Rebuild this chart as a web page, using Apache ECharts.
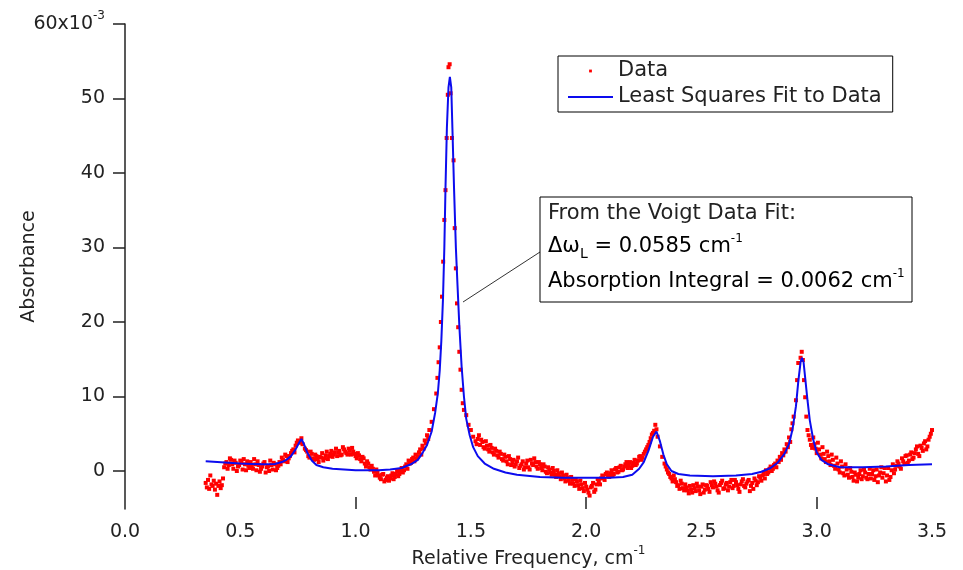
<!DOCTYPE html>
<html lang="en">
<head>
    <meta charset="UTF-8">
    <title>Voigt Fit</title>
    <script src="https://cdn.jsdelivr.net/npm/echarts@6/dist/echarts.min.js"></script>
    <style>
        html, body {
            margin: 0;
            padding: 0;
            background: #fff;
        }
    </style>
</head>
<body>
<div id="main" style="width:963px;height:570px;"></div>
<script>
    // measured points (x in cm-1, y in units of 1e-3)
    var dataPoints = [
        [0.350, -1.6], [0.355, -2.2], [0.360, -1.2], [0.365, -2.4], [0.370, -0.6], [0.375, -1.8], [0.380, -2.0],
        [0.385, -1.3], [0.390, -2.5], [0.395, -1.7], [0.400, -3.2], [0.405, -2.0], [0.410, -1.4], [0.415, -2.3],
        [0.420, -1.9], [0.425, -1.0],
        [0.43, 0.5], [0.44, 1.2], [0.45, 0.8], [0.46, 1.5], [0.47, 0.3], [0.48, 1.1], [0.49, 0.6], [0.50, 1.4],
        [0.51, 0.2], [0.52, 0.9], [0.53, 1.3], [0.54, 0.4], [0.55, 0.7], [0.56, 1.6], [0.57, 0.1], [0.58, 0.8],
        [0.59, 0.3], [0.60, 1.0], [0.61, -0.2], [0.62, 0.6], [0.63, 1.4], [0.64, 0.2], [0.65, 0.9], [0.66, 0.4],
        [0.67, 1.2], [0.68, 1.8], [0.69, 1.3], [0.70, 2.0], [0.71, 1.7], [0.72, 2.4], [0.73, 2.9], [0.74, 3.4],
        [0.75, 4.1], [0.76, 3.8], [0.765, 4.4], [0.77, 3.6], [0.78, 3.0], [0.79, 2.6], [0.80, 1.8], [0.81, 2.3],
        [0.82, 1.5], [0.83, 2.0], [0.84, 1.2], [0.85, 1.8], [0.86, 1.4], [0.87, 2.1], [0.88, 1.6], [0.89, 2.3],
        [0.90, 1.9], [0.91, 2.5], [0.92, 2.0], [0.93, 2.7], [0.94, 2.2], [0.95, 2.9], [0.96, 2.4], [0.97, 3.0],
        [0.98, 2.2], [0.99, 2.6], [1.00, 2.0], [1.01, 2.4], [1.02, 1.6], [1.03, 1.9], [1.04, 1.0], [1.05, 1.3],
        [1.06, 0.5], [1.07, 0.7], [1.08, -0.1], [1.09, 0.2], [1.10, -0.6], [1.11, -1.1], [1.12, -0.4], [1.13, -1.2],
        [1.14, -0.7], [1.15, -1.0], [1.16, -0.3], [1.17, -0.8], [1.18, 0.0], [1.19, -0.4], [1.20, 0.4], [1.21, 0.1],
        [1.22, 0.9], [1.23, 1.4], [1.24, 1.1], [1.25, 1.8], [1.26, 2.2], [1.27, 2.0], [1.28, 2.9], [1.29, 3.4],
        [1.30, 4.1], [1.31, 4.8], [1.32, 5.5], [1.33, 6.6], [1.34, 8.3], [1.35, 10.4], [1.355, 12.5], [1.36, 14.6],
        [1.365, 16.6], [1.37, 20.0], [1.375, 23.4], [1.38, 28.1], [1.385, 33.7], [1.39, 37.7], [1.395, 44.7],
        [1.40, 50.5], [1.403, 54.2], [1.408, 54.6], [1.412, 50.7], [1.418, 44.7], [1.425, 41.7], [1.43, 32.6],
        [1.435, 27.2], [1.44, 22.5], [1.445, 19.3], [1.45, 16.0], [1.455, 13.6], [1.46, 10.9], [1.465, 9.1],
        [1.47, 8.2], [1.48, 7.5], [1.49, 6.2], [1.50, 5.5], [1.51, 4.6], [1.52, 4.0], [1.53, 4.3], [1.54, 3.5],
        [1.55, 3.9], [1.56, 3.0], [1.57, 3.4], [1.58, 2.6], [1.59, 3.1], [1.60, 2.2], [1.61, 2.7], [1.62, 1.8],
        [1.63, 2.3], [1.64, 1.4], [1.65, 1.9], [1.66, 0.9], [1.67, 1.6], [1.68, 1.1], [1.69, 0.6], [1.70, 1.3],
        [1.71, 0.4], [1.72, 0.9], [1.73, 0.2], [1.74, 1.0], [1.75, 0.5], [1.76, 1.5], [1.77, 0.8], [1.78, 1.2],
        [1.79, 0.3], [1.80, 0.9], [1.81, 0.1], [1.82, 0.6], [1.83, -0.3], [1.84, 0.2], [1.85, -0.5], [1.86, 0.0],
        [1.87, -0.8], [1.88, -0.3], [1.89, -1.1], [1.90, -0.6], [1.91, -1.4], [1.92, -0.9], [1.93, -1.7], [1.94, -1.2],
        [1.95, -2.0], [1.96, -1.4], [1.97, -2.4], [1.98, -1.8], [1.99, -2.7], [2.00, -2.1], [2.01, -2.9], [2.02, -2.2],
        [2.03, -1.6], [2.04, -2.5], [2.05, -1.1], [2.06, -1.8], [2.07, -0.6], [2.08, -1.2], [2.09, -0.2], [2.10, -0.8],
        [2.11, 0.1], [2.12, -0.4], [2.13, 0.4], [2.14, -0.1], [2.15, 0.7], [2.16, 0.2], [2.17, 0.9], [2.18, 0.4],
        [2.19, 1.2], [2.20, 0.7], [2.21, 1.5], [2.22, 1.0], [2.23, 1.9], [2.24, 1.5], [2.25, 2.3], [2.26, 2.9],
        [2.27, 3.5], [2.28, 4.4], [2.29, 5.1], [2.30, 6.2], [2.305, 5.6], [2.31, 4.6], [2.32, 3.3], [2.33, 1.9],
        [2.34, 1.0], [2.35, 0.2], [2.36, -0.4], [2.37, -1.0], [2.38, -0.6], [2.39, -1.5], [2.40, -1.9], [2.41, -1.3],
        [2.42, -2.3], [2.43, -1.8], [2.44, -2.6], [2.45, -2.0], [2.46, -2.9], [2.47, -2.3], [2.48, -1.7], [2.49, -2.6],
        [2.50, -2.1], [2.51, -2.9], [2.52, -1.9], [2.53, -2.4], [2.54, -1.5], [2.55, -2.2], [2.56, -1.7], [2.57, -2.6],
        [2.58, -1.9], [2.59, -1.3], [2.60, -2.3], [2.61, -1.6], [2.62, -2.1], [2.63, -1.2], [2.64, -2.0], [2.65, -1.5],
        [2.66, -2.4], [2.67, -1.8], [2.68, -1.1], [2.69, -2.2], [2.70, -1.4], [2.71, -2.7], [2.72, -1.6], [2.73, -1.0],
        [2.74, -1.9], [2.75, -0.7], [2.76, -1.3], [2.77, -0.4], [2.78, 0.1], [2.79, -0.2], [2.80, 0.6], [2.81, 0.3],
        [2.82, 1.0], [2.83, 1.4], [2.84, 1.9], [2.85, 2.4], [2.86, 2.9], [2.87, 3.6], [2.88, 4.5], [2.89, 5.6],
        [2.90, 7.3], [2.91, 9.5], [2.915, 12.2], [2.92, 14.5], [2.93, 15.2], [2.935, 16.0], [2.94, 14.9],
        [2.945, 12.2], [2.95, 9.9], [2.955, 7.3], [2.96, 5.5], [2.97, 4.2], [2.98, 3.1], [2.99, 3.6], [3.00, 2.4],
        [3.01, 2.9], [3.02, 1.7], [3.03, 2.3], [3.04, 1.2], [3.05, 2.0], [3.06, 0.8], [3.07, 1.5], [3.08, 0.3],
        [3.09, 1.0], [3.10, -0.2], [3.11, 0.6], [3.12, -0.6], [3.13, 0.2], [3.14, -0.9], [3.15, -0.1], [3.16, -1.3],
        [3.17, -0.5], [3.18, -0.9], [3.19, 0.1], [3.20, -0.7], [3.21, -0.2], [3.22, -1.1], [3.23, 0.3], [3.24, -0.4],
        [3.25, -1.2], [3.26, 0.2], [3.27, -0.6], [3.28, 0.5], [3.29, -0.3], [3.30, -1.4], [3.31, 0.4], [3.32, -0.8],
        [3.33, 0.9], [3.34, 0.2], [3.35, 1.3], [3.36, 0.6], [3.37, 1.7], [3.38, 1.0], [3.39, 2.1], [3.40, 1.4],
        [3.41, 2.5], [3.42, 1.8], [3.43, 2.9], [3.44, 2.3], [3.45, 3.4], [3.46, 2.7], [3.47, 4.0], [3.48, 3.3],
        [3.49, 4.6], [3.50, 5.5]
    ];

    // the in-between samples of the same scan
    var dataPointsMid = [
        [0.435, 1.0], [0.445, 0.3], [0.455, 1.7], [0.465, 0.9], [0.475, 1.4], [0.485, 0.0], [0.495, 0.8],
        [0.505, 1.1], [0.515, 1.6], [0.525, 0.1], [0.535, 0.7], [0.545, 1.2], [0.555, 0.3], [0.565, 0.9],
        [0.575, 1.3], [0.585, -0.1], [0.595, 0.6], [0.605, 1.2], [0.615, 0.5], [0.625, 0.0], [0.635, 0.8],
        [0.645, 1.1], [0.655, 0.1], [0.665, 0.7], [0.675, 0.9], [0.685, 1.5], [0.695, 2.2], [0.705, 1.2],
        [0.715, 2.0], [0.725, 2.7], [0.735, 2.5], [0.745, 3.8], [0.785, 2.8], [0.795, 2.0], [0.805, 2.6],
        [0.815, 1.7], [0.825, 2.2], [0.835, 1.6], [0.845, 1.9], [0.855, 2.4], [0.865, 1.7], [0.875, 2.6],
        [0.885, 2.0], [0.895, 2.7], [0.905, 2.2], [0.915, 3.0], [0.925, 2.5], [0.935, 2.1], [0.945, 3.2],
        [0.955, 2.6], [0.965, 2.2], [0.975, 2.7], [0.985, 3.1], [0.995, 2.3], [1.005, 1.7], [1.015, 2.1],
        [1.025, 1.3], [1.035, 1.7], [1.045, 0.6], [1.055, 1.0], [1.065, 0.2], [1.075, 0.3], [1.085, -0.6],
        [1.095, -0.2], [1.105, -0.9], [1.115, -0.5], [1.125, -1.4], [1.135, -0.9], [1.145, -1.3], [1.155, -0.6],
        [1.165, -1.1], [1.175, -0.4], [1.185, -0.7], [1.195, 0.1], [1.205, -0.2], [1.215, 0.6], [1.225, 0.3],
        [1.235, 1.0], [1.245, 1.6], [1.255, 1.3], [1.265, 1.7], [1.275, 2.5], [1.285, 2.2], [1.295, 3.0],
        [1.305, 3.7], [1.315, 4.3],
        [1.525, 3.6], [1.535, 4.8], [1.545, 4.2], [1.555, 3.2], [1.565, 4.0], [1.575, 2.9], [1.585, 3.5],
        [1.595, 2.5], [1.605, 3.0], [1.615, 2.1], [1.625, 2.6], [1.635, 1.6], [1.645, 2.2], [1.655, 1.3],
        [1.665, 2.0], [1.675, 0.8], [1.685, 1.5], [1.695, 0.9], [1.705, 1.8], [1.715, 0.7], [1.725, 1.3],
        [1.735, 0.5], [1.745, 1.4], [1.755, 0.2], [1.765, 1.0], [1.775, 1.7], [1.785, 0.6], [1.795, 1.2],
        [1.805, 0.4], [1.815, 0.9], [1.825, -0.1], [1.835, 0.5], [1.845, -0.2], [1.855, 0.4], [1.865, -0.5],
        [1.875, 0.1], [1.885, -0.7], [1.895, -0.2], [1.905, -1.0], [1.915, -0.5], [1.925, -1.3], [1.935, -0.8],
        [1.945, -1.7], [1.955, -1.1], [1.965, -1.9], [1.975, -1.3], [1.985, -2.3], [1.995, -1.6], [2.005, -2.5],
        [2.015, -3.3], [2.025, -2.0], [2.035, -2.8], [2.045, -1.8], [2.055, -1.4], [2.065, -1.0], [2.075, -0.9],
        [2.085, -0.4], [2.095, -0.6], [2.105, -0.3], [2.115, -0.6], [2.125, 0.2], [2.135, -0.2], [2.145, 0.5],
        [2.155, 0.1], [2.165, 0.6], [2.175, 1.2], [2.185, 0.7], [2.195, 0.4], [2.205, 1.1], [2.215, 0.8],
        [2.225, 1.4], [2.235, 2.0], [2.245, 1.8], [2.255, 2.6], [2.265, 3.2], [2.275, 3.9], [2.285, 4.9],
        [2.295, 5.4],
        [2.345, 0.6], [2.355, -0.2], [2.365, -0.8], [2.375, -1.4], [2.385, -1.1], [2.395, -2.0], [2.405, -2.4],
        [2.415, -1.7], [2.425, -2.6], [2.435, -2.2], [2.445, -3.0], [2.455, -2.5], [2.465, -1.9], [2.475, -2.7],
        [2.485, -2.1], [2.495, -3.1], [2.505, -1.8], [2.515, -2.5], [2.525, -2.0], [2.535, -2.8], [2.545, -1.9],
        [2.555, -1.4], [2.565, -2.1], [2.575, -2.9], [2.585, -1.6], [2.595, -2.4], [2.605, -1.8], [2.615, -2.6],
        [2.625, -1.5], [2.635, -2.3], [2.645, -1.2], [2.655, -1.9], [2.665, -2.8], [2.675, -1.4], [2.685, -2.0],
        [2.695, -1.7], [2.705, -1.2], [2.715, -2.0], [2.725, -2.4], [2.735, -1.3], [2.745, -1.5], [2.755, -0.9],
        [2.765, -0.6], [2.775, -1.0], [2.785, -0.4], [2.795, 0.3], [2.805, 0.0], [2.815, 0.8], [2.825, 0.5],
        [2.835, 1.2], [2.845, 1.5], [2.855, 2.1], [2.865, 2.6], [2.875, 3.2], [2.885, 3.9], [2.895, 6.4],
        [2.965, 4.8], [2.975, 3.5], [2.985, 4.5], [2.995, 3.0], [3.005, 3.8], [3.015, 2.2], [3.025, 3.2],
        [3.035, 1.6], [3.045, 2.6], [3.055, 1.3], [3.065, 2.2], [3.075, 0.7], [3.085, 1.8], [3.095, 0.2],
        [3.105, 1.3], [3.115, -0.3], [3.125, 0.9], [3.135, -0.5], [3.145, 0.4], [3.155, -0.8], [3.165, -0.2],
        [3.175, -1.4], [3.185, -0.4], [3.195, -1.1], [3.205, 0.2], [3.215, -0.9], [3.225, -0.4], [3.235, -1.0],
        [3.245, 0.1], [3.255, -0.7], [3.265, -1.5], [3.275, -0.2], [3.285, -0.9], [3.295, 0.4], [3.305, -0.6],
        [3.315, -1.2], [3.325, 0.1], [3.335, -0.3], [3.345, 0.7], [3.355, 1.0], [3.365, 0.3], [3.375, 1.3],
        [3.385, 2.0], [3.395, 1.1], [3.405, 2.2], [3.415, 1.6], [3.425, 2.4], [3.435, 3.3], [3.445, 2.0],
        [3.455, 3.1], [3.465, 3.7], [3.475, 2.9], [3.485, 4.2], [3.495, 5.0]
    ];

    // least squares (Voigt) fit curve
    var fitPoints = [
        [0.35, 1.3], [0.40, 1.2], [0.45, 1.1], [0.50, 1.0], [0.55, 0.95], [0.60, 0.9], [0.65, 0.95], [0.68, 1.2],
        [0.70, 1.5], [0.72, 2.0], [0.74, 2.9], [0.755, 3.8], [0.765, 4.3], [0.775, 3.7], [0.79, 2.5], [0.81, 1.4],
        [0.83, 0.8], [0.86, 0.5], [0.90, 0.3], [0.95, 0.2], [1.00, 0.1], [1.05, 0.1], [1.10, 0.1], [1.15, 0.2],
        [1.20, 0.4], [1.24, 0.9], [1.27, 1.5], [1.29, 2.4], [1.31, 3.5], [1.33, 5.3], [1.345, 7.8], [1.357, 10.5],
        [1.365, 13.5], [1.372, 17.5], [1.379, 23], [1.385, 30], [1.39, 38], [1.396, 46], [1.403, 51.5],
        [1.409, 52.9], [1.415, 51.5], [1.42, 46], [1.427, 38], [1.435, 30], [1.442, 25], [1.45, 19.5], [1.46, 14],
        [1.47, 10], [1.48, 7.0], [1.495, 4.8], [1.51, 3.2], [1.53, 2.0], [1.56, 1.0], [1.60, 0.3], [1.65, -0.2],
        [1.70, -0.5], [1.80, -0.8], [1.90, -0.9], [2.00, -0.9], [2.10, -0.9], [2.16, -0.8], [2.20, -0.5],
        [2.23, 0.3], [2.25, 1.2], [2.27, 2.7], [2.29, 4.6], [2.305, 5.3], [2.32, 4.0], [2.335, 2.2], [2.35, 0.9],
        [2.37, 0.0], [2.40, -0.4], [2.45, -0.6], [2.55, -0.7], [2.65, -0.6], [2.72, -0.4], [2.76, -0.1], [2.80, 0.4],
        [2.83, 1.1], [2.86, 2.3], [2.88, 3.6], [2.895, 5.6], [2.91, 8.7], [2.92, 12.0], [2.93, 14.6], [2.936, 15.2],
        [2.943, 14.6], [2.95, 12.5], [2.96, 9.5], [2.97, 6.8], [2.985, 4.2], [3.00, 2.5], [3.02, 1.5], [3.05, 0.9],
        [3.10, 0.5], [3.20, 0.5], [3.30, 0.6], [3.40, 0.8], [3.50, 0.9]
    ];

    var yTickValues = [0, 10, 20, 30, 40, 50, 60];
    var xMajorTicks = [1, 2, 3];
    var fitLines = [
        'From the Voigt Data Fit:',
        '{t|\u0394\u03c9}{sub|L}{t| = 0.0585 cm}{sup|-1}',
        '{t|Absorption Integral = 0.0062 cm}{sup|-1}'
    ];

    var ink = '#222';
    var font = 'DejaVu Sans';
    var myChart = echarts.init(document.getElementById('main'));

    function richSet(size) {
        return {
            t: {fontSize: size, fontFamily: font, color: ink, lineHeight: 28, verticalAlign: 'middle'},
            sup: {fontSize: 12, fontFamily: font, color: ink, lineHeight: 14, verticalAlign: 'top'},
            sub: {fontSize: 14, fontFamily: font, color: ink, lineHeight: 14, verticalAlign: 'bottom'}
        };
    }

    var option = {
        animation: false,
        backgroundColor: '#fff',
        textStyle: {fontFamily: font, color: ink},
        grid: {left: 125, right: 31, top: 24, bottom: 61, containLabel: false, outerBoundsMode: 'none'},
        legend: {
            left: 558,
            top: 56,
            orient: 'vertical',
            padding: [3, 11, 3, 10],
            itemGap: 2,
            itemWidth: 45,
            itemHeight: 14,
            borderColor: '#000',
            borderWidth: 1,
            backgroundColor: '#fff',
            textStyle: {fontSize: 21, color: ink, lineHeight: 24},
            data: [
                {name: 'Data', icon: 'path://M0,0M10,10M4,4h2v2h-2z'},
                {name: 'Least Squares Fit to Data', icon: 'path://M0,0h45v2h-45z'}
            ]
        },
        xAxis: {
            type: 'value',
            min: 0,
            max: 3.5,
            interval: 0.5,
            name: '{t|Relative Frequency, cm}{sup|-1}',
            nameLocation: 'middle',
            nameGap: 36,
            nameMoveOverlap: false,
            nameTextStyle: {rich: richSet(19)},
            axisLine: {show: false, onZero: false},
            axisTick: {show: true, inside: true, length: 12, customValues: xMajorTicks, lineStyle: {color: ink, width: 1.5}},
            axisLabel: {
                fontSize: 19, color: ink, margin: 14,
                formatter: function (v) { return v.toFixed(1); }
            },
            splitLine: {show: false}
        },
        yAxis: {
            type: 'value',
            min: -5.1,
            max: 60,
            name: 'Absorbance',
            nameLocation: 'middle',
            nameGap: 86,
            nameRotate: 90,
            nameMoveOverlap: false,
            nameTextStyle: {fontSize: 19, color: ink},
            axisLine: {show: true, onZero: false, lineStyle: {color: ink, width: 1.5}},
            axisTick: {show: true, length: 12, customValues: yTickValues, lineStyle: {color: ink, width: 1.5}},
            axisLabel: {
                customValues: yTickValues,
                margin: 20,
                fontSize: 19,
                color: ink,
                formatter: function (v) {
                    return v === 60 ? '{t|60x10}{sup|-3}' : String(v);
                },
                rich: richSet(19)
            },
            splitLine: {show: false}
        },
        series: [
            {
                name: 'Data',
                type: 'scatter',
                data: dataPoints.concat(dataPointsMid),
                symbol: 'rect',
                symbolSize: 4,
                itemStyle: {color: '#ff0000', opacity: 1},
                z: 2
            },
            {
                name: 'Least Squares Fit to Data',
                type: 'line',
                data: fitPoints,
                symbol: 'none',
                lineStyle: {color: '#0c0cee', width: 2},
                itemStyle: {color: '#0c0cee'},
                z: 3
            }
        ],
        graphic: [
            {
                type: 'line',
                shape: {x1: 540, y1: 252, x2: 463, y2: 302},
                style: {stroke: '#333', lineWidth: 1},
                z: 10
            },
            {
                type: 'rect',
                shape: {x: 540, y: 197, width: 372, height: 105},
                style: {fill: '#fff', stroke: '#000', lineWidth: 1},
                z: 10
            },
            {
                type: 'text',
                left: 548, top: 203,
                style: {text: fitLines[0], font: '21px "DejaVu Sans"', fill: ink},
                z: 11
            },
            {
                type: 'text',
                left: 548, top: 233,
                style: {text: fitLines[1], rich: richSet(21)},
                z: 11
            },
            {
                type: 'text',
                left: 548, top: 268,
                style: {text: fitLines[2], rich: richSet(21)},
                z: 11
            }
        ]
    };

    myChart.setOption(option);
</script>
</body>
</html>
